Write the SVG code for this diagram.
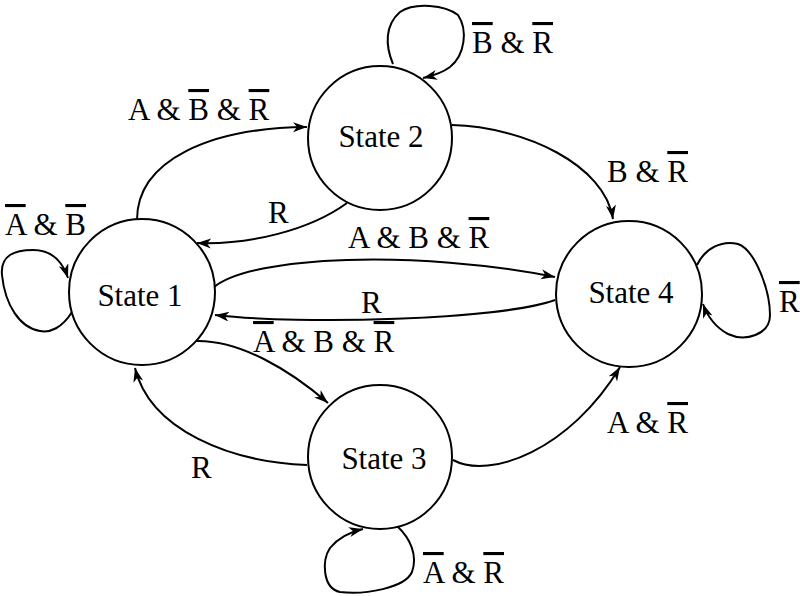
<svg xmlns="http://www.w3.org/2000/svg" width="800" height="596" viewBox="0 0 800 596">
<style>
  .st { fill: none; stroke: #000; stroke-width: 2; }
  .node circle { fill: #fff; stroke: #000; stroke-width: 2; }
  text { font-family: "Liberation Serif", "Times New Roman", serif; font-size: 31px; fill: #000; }
  .c { text-anchor: middle; }
  .ob { text-decoration: overline; }
  .edge path { fill: none; stroke: #000; stroke-width: 2; marker-end: url(#ah); }
</style>
<defs>
  <marker id="ah" markerUnits="userSpaceOnUse" markerWidth="16" markerHeight="12" refX="14" refY="5" orient="auto">
    <path d="M0,0 L14,5 L0,10 L4,5 z" fill="#000"/>
  </marker>
</defs>
<rect width="800" height="596" fill="#fff"/>
<g id="connectors" class="edge">
  <path id="e12" d="M137,220 C137,160 210,128 307,127"/>
  <path id="e21" d="M347,203 C310,230 250,245 197,243"/>
  <path id="e22" d="M393,64 C385,45 385,25 400,12 C415,2 445,5 458,15 C468,30 465,55 450,67 C442,73 432,76 423,78"/>
  <path id="e24" d="M452,125 C525,127 605,165 613,219"/>
  <path id="e14" d="M213,288 C250,255 420,250 555,277"/>
  <path id="e41" d="M555,300 C500,320 300,325 215,315"/>
  <path id="e13" d="M196,341 C240,340 290,370 328,403"/>
  <path id="e31" d="M307,465 C230,462 150,430 135,368"/>
  <path id="e34" d="M453,460 C490,480 570,450 620,367"/>
  <path id="e11" d="M72,312 C62,328 50,333 40,331 C20,328 5,305 2,275 C0,255 15,250 33,250 C50,250 62,260 68,278"/>
  <path id="e44" d="M697,265 C705,248 722,240 738,244 C755,250 770,290 770,315 C770,335 745,342 728,334 C715,327 707,315 703,304"/>
  <path id="e33" d="M397,526 C410,538 418,555 412,572 C405,588 365,595 340,592 C322,588 322,560 330,548 C338,538 350,532 363,529"/>
</g>
<g id="labels">
  <text x="5" y="235"><tspan class="ob">A</tspan> &amp; <tspan class="ob">B</tspan></text>
  <text x="128" y="120">A &amp; <tspan class="ob">B</tspan> &amp; <tspan class="ob">R</tspan></text>
  <text x="472" y="53"><tspan class="ob">B</tspan> &amp; <tspan class="ob">R</tspan></text>
  <text x="268" y="223">R</text>
  <text x="607" y="182">B &amp; <tspan class="ob">R</tspan></text>
  <text x="348" y="248">A &amp; B &amp; <tspan class="ob">R</tspan></text>
  <text x="361" y="313">R</text>
  <text x="253" y="352"><tspan class="ob">A</tspan> &amp; B &amp; <tspan class="ob">R</tspan></text>
  <text x="607" y="433">A &amp; <tspan class="ob">R</tspan></text>
  <text x="191" y="478">R</text>
  <text x="423" y="583"><tspan class="ob">A</tspan> &amp; <tspan class="ob">R</tspan></text>
  <text x="779" y="312"><tspan class="ob">R</tspan></text>
</g>
<g id="state1" class="node">
  <circle cx="142" cy="292" r="73"/>
  <text class="c" x="140" y="306">State 1</text>
</g>
<g id="state2" class="node">
  <circle cx="380" cy="138" r="72"/>
  <text class="c" x="381" y="147">State 2</text>
</g>
<g id="state3" class="node">
  <circle cx="380" cy="457" r="72"/>
  <text class="c" x="384" y="469">State 3</text>
</g>
<g id="state4" class="node">
  <circle cx="629" cy="294" r="73"/>
  <text class="c" x="631" y="303">State 4</text>
</g>
</svg>
